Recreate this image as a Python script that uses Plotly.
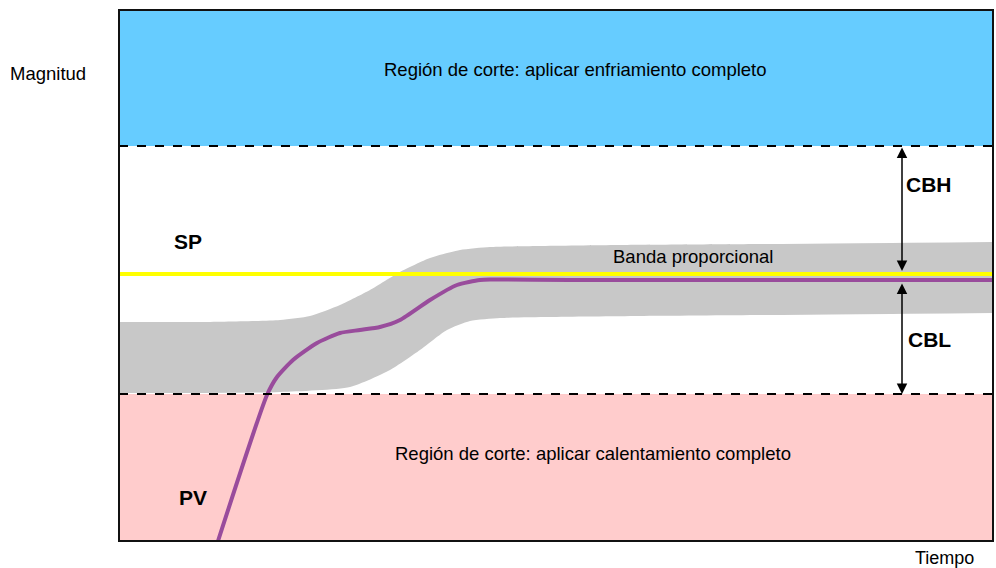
import plotly.graph_objects as go

# zone limits (y units, bottom of plot = 0)
y_max = 531
x_max = 874
cut_high = 395   # top cut-off line (CBH limit)
cut_low = 147    # bottom cut-off line (CBL limit)
sp_level = 267   # set point

# process variable curve
pv_x = [99, 148, 158, 174, 198, 221, 241, 261, 281, 311, 338, 361, 371, 450, 600, 874]
pv_y = [0, 146, 164, 181, 198, 208, 211, 214, 221, 241, 256, 261, 261.5, 261, 261, 261]

# proportional band edges
band_up_x = [0, 81, 161, 191, 221, 251, 281, 311, 341, 371, 420, 500, 650, 874]
band_up_y = [219, 219, 221, 225, 236, 251, 269, 283, 291, 294, 295, 296, 297, 299]
band_lo_x = [0, 161, 231, 271, 301, 328, 351, 381, 430, 520, 650, 874]
band_lo_y = [148, 149, 154, 171, 191, 211, 220, 223, 224, 225, 226, 228]

FONT = "Liberation Sans, Arial, sans-serif"

fig = go.Figure()

# shaded regions
fig.add_shape(type="rect", x0=0, x1=x_max, y0=cut_high, y1=y_max,
              fillcolor="#66CCFF", line_width=0, layer="below")
fig.add_shape(type="rect", x0=0, x1=x_max, y0=0, y1=cut_low,
              fillcolor="#FFCCCC", line_width=0, layer="below")

# band: lower edge, then upper edge filled down to it
fig.add_trace(go.Scatter(x=band_lo_x, y=band_lo_y, mode="lines",
                         line=dict(width=0, shape="spline", smoothing=0.6),
                         hoverinfo="skip"))
fig.add_trace(go.Scatter(x=band_up_x, y=band_up_y, mode="lines", fill="tonexty",
                         fillcolor="#C8C8C8",
                         line=dict(width=0, shape="spline", smoothing=0.6),
                         hoverinfo="skip"))

# SP line
fig.add_trace(go.Scatter(x=[0, x_max], y=[sp_level, sp_level], mode="lines",
                         line=dict(color="#FFFF00", width=4), hoverinfo="skip"))

# PV line
fig.add_trace(go.Scatter(x=pv_x, y=pv_y, mode="lines",
                         line=dict(color="#994C9C", width=4, shape="spline", smoothing=0.6),
                         hoverinfo="skip"))

# dashed cut lines
for lvl in [cut_high, cut_low]:
    fig.add_shape(type="line", x0=0, x1=x_max, y0=lvl, y1=lvl,
                  line=dict(color="black", width=2, dash="dash"))

# frame
fig.add_shape(type="rect", xref="paper", yref="paper", x0=0, x1=1, y0=0, y1=1,
              line=dict(color="#111111", width=2))

# double arrows
arrow_x = 783
for y_a, y_b in [(cut_high, sp_level + 3), (sp_level - 8, cut_low)]:
    fig.add_annotation(x=arrow_x, y=y_b, ax=arrow_x, ay=y_a, xref="x", yref="y",
                       axref="x", ayref="y", text="", showarrow=True,
                       arrowhead=2, startarrowhead=2, arrowside="end+start",
                       arrowsize=1.4, arrowwidth=1.5, arrowcolor="black")

def label(x, y, txt, size=18.5, bold=False, xref="x", yref="y"):
    fig.add_annotation(x=x, y=y, xref=xref, yref=yref, showarrow=False,
                       xanchor="center", yanchor="middle",
                       text=f"<b>{txt}</b>" if bold else txt,
                       font=dict(family=FONT, size=size, color="black"))

label(456, 472, "Región de corte: aplicar enfriamiento completo")
label(474, 88, "Región de corte: aplicar calentamiento completo")
label(574, 285, "Banda proporcional")
label(810, 357, "CBH", size=21, bold=True)
label(810, 202, "CBL", size=21, bold=True)
label(69, 300, "SP", size=21, bold=True)
label(74, 44, "PV", size=21, bold=True)

# axis names, placed outside the plot area in paper coords
label(-71 / x_max, 468 / y_max, "Magnitud", xref="paper", yref="paper")
label(825 / x_max, -16.5 / y_max, "Tiempo", size=18, xref="paper", yref="paper")

fig.update_xaxes(range=[0, x_max], visible=False, fixedrange=True)
fig.update_yaxes(range=[0, y_max], visible=False, fixedrange=True)
fig.update_layout(width=996, height=568, showlegend=False,
                  margin=dict(l=119, r=3, t=10, b=27),
                  plot_bgcolor="white", paper_bgcolor="white")

# drop the default page margin so the figure fills the window exactly
fig.write_html("out.html", config={"displayModeBar": False},
               post_script="document.body.style.margin='0';document.body.style.overflow='hidden';")
